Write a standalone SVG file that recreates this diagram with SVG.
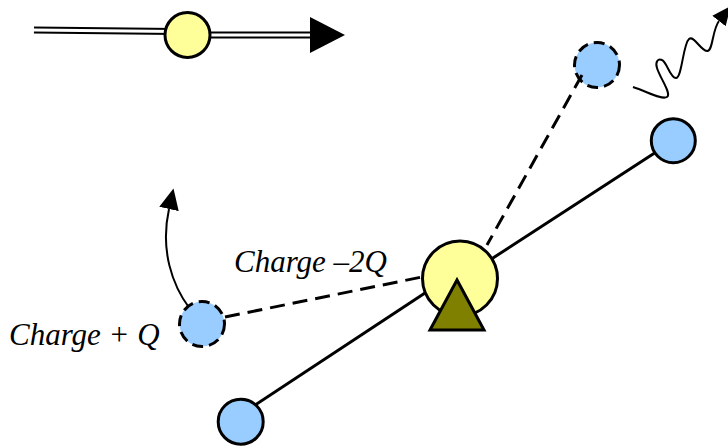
<svg xmlns="http://www.w3.org/2000/svg" width="728" height="448" viewBox="0 0 728 448">
  <defs>
    <style>
      .yel { fill: #FFFF99; stroke: #000; stroke-width: 3; }
      .blue { fill: #99CCFF; stroke: #000; stroke-width: 3; }
      .blue-dash { fill: #99CCFF; stroke: #000; stroke-width: 3; stroke-dasharray: 11 6; }
      .rod { fill: none; stroke: #000; stroke-width: 3; }
      .rod-dash { fill: none; stroke: #000; stroke-width: 3; stroke-dasharray: 15 8; }
      .thin { fill: none; stroke: #000; stroke-width: 2; }
      .label { font-family: "Liberation Serif", "Times New Roman", serif; font-style: italic; font-size: 31px; fill: #000; }
    </style>
    <marker id="head" markerUnits="userSpaceOnUse" markerWidth="22" markerHeight="22" viewBox="0 -10 21 20" refX="0" refY="0" orient="auto">
      <path d="M0,-9.5 L20,0 L0,9.5 z" fill="#000"/>
    </marker>
    <marker id="head2" markerUnits="userSpaceOnUse" markerWidth="20" markerHeight="20" viewBox="0 -9 19 18" refX="0" refY="0" orient="auto">
      <path d="M0,-8 L18,0 L0,8 z" fill="#000"/>
    </marker>
  </defs>
  <rect width="728" height="448" fill="#fff"/>

  <g id="photon-emitted-charge">
    <circle class="blue-dash" cx="597" cy="65" r="22.5"/>
  </g>

  <g id="connectors">
    <!-- velocity double arrow -->
    <path d="M34,30 L176,31.6" stroke="#000" stroke-width="7" fill="none"/>
    <path d="M34,30 L176,31.6" stroke="#fff" stroke-width="3" fill="none"/>
    <path d="M200,35 L312,35" stroke="#000" stroke-width="7" fill="none"/>
    <path d="M200,35 L312,35" stroke="#fff" stroke-width="3" fill="none"/>
    <polygon points="310,17 345,35 310,53" fill="#000"/>
    <!-- rods -->
    <line class="rod" x1="252" y1="407" x2="425" y2="293"/>
    <line class="rod" x1="480" y1="266.4" x2="665" y2="146.3"/>
    <line class="rod-dash" x1="582" y1="75" x2="487" y2="245"/>
    <line class="rod-dash" x1="225" y1="317" x2="422" y2="277"/>
    <!-- curved motion arrow -->
    <path class="thin" d="M190,309 C172,285 160,250 169,209" marker-end="url(#head)"/>
    <!-- wavy radiation arrow -->
    <path class="thin" stroke-width="2.3" d="M633,87 C648,92 662,100 667,97 C672,94 660,78 657,68 C655,62 658,58 662,60 C667,62 670,78 676,78 C682,78 683,44 689,39 C694,35 700,50 707,51 C713,52 712,30 719,21" marker-end="url(#head2)"/>
  </g>

  <g id="moving-charge">
    <circle class="yel" cx="187.5" cy="35" r="22.5"/>
  </g>
  <g id="pivot-charge">
    <circle class="yel" cx="460" cy="278.5" r="37.5"/>
  </g>
  <g id="pivot-support">
    <polygon points="457,280 430,330 484,330" fill="#808000" stroke="#000" stroke-width="3" stroke-linejoin="miter"/>
  </g>
  <g id="charge-plus-q">
    <circle class="blue-dash" cx="202" cy="324" r="22.5"/>
  </g>
  <g id="rod-end-top">
    <circle class="blue" cx="673.3" cy="140.7" r="22"/>
  </g>
  <g id="rod-end-bottom">
    <circle class="blue" cx="240.7" cy="421.7" r="22.5"/>
  </g>

  <g id="labels">
    <text class="label" x="234" y="272">Charge –2Q</text>
    <text class="label" x="9" y="345">Charge + Q</text>
  </g>
</svg>
